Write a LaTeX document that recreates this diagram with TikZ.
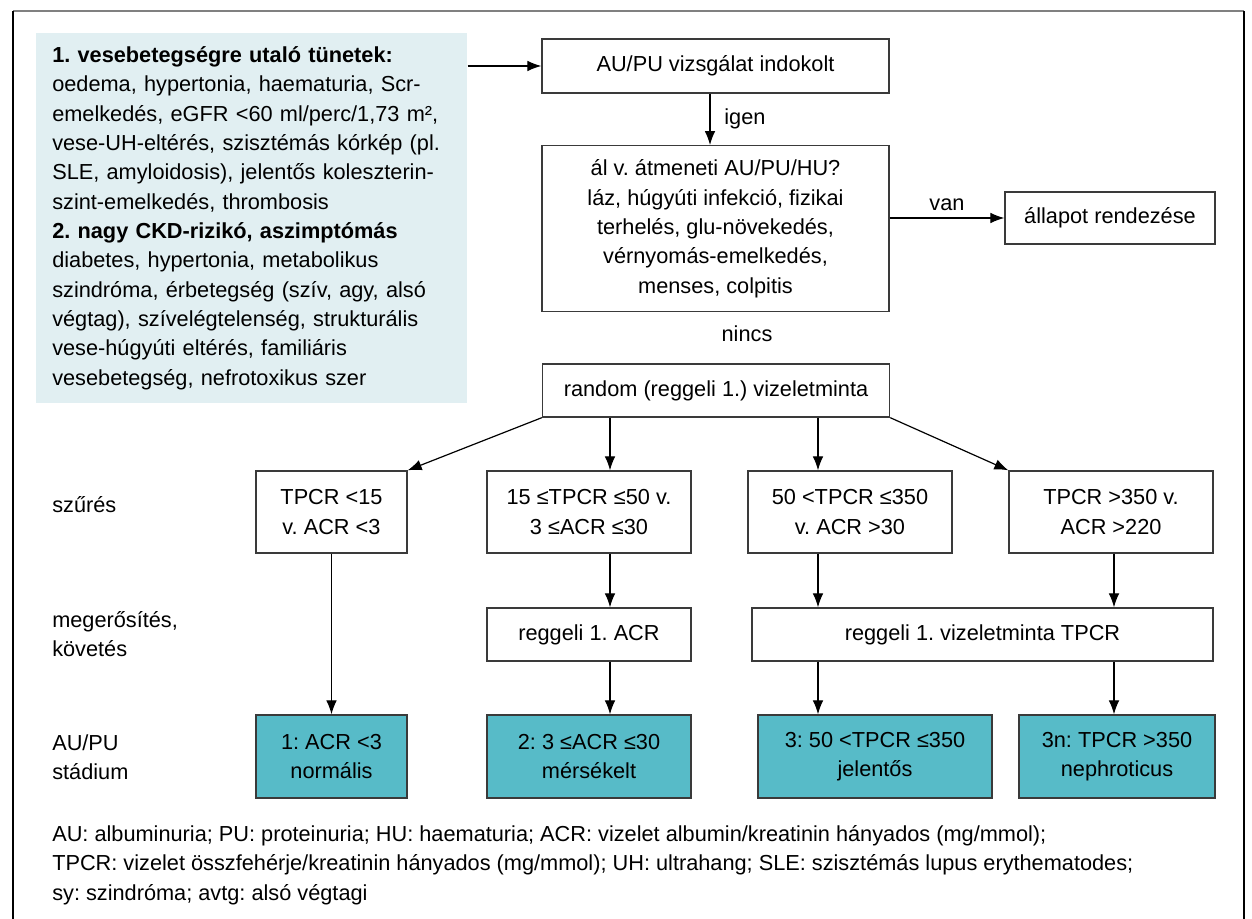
\documentclass[tikz,border=0pt]{standalone}
\usepackage{fontspec}
\setmainfont{Liberation Sans}
\usetikzlibrary{arrows.meta,positioning}
\definecolor{panelblue}{HTML}{E1EFF2}
\definecolor{stageteal}{HTML}{57BBC8}
\definecolor{boxline}{HTML}{3A3A3A}
\frenchspacing

\begin{document}
\begin{tikzpicture}[x=0.75pt,y=-0.75pt,
  every node/.style={font=\fontsize{16.3}{22}\selectfont},
  box/.style={draw=boxline,line width=1pt,fill=white,align=center,inner sep=0pt},
  stage/.style={box,fill=stageteal},
  lbl/.style={anchor=west,align=left,inner sep=0pt},
  arr/.style={-{Latex[length=10.5pt,width=8pt]},line width=0.9pt}]
  \useasboundingbox (0,0) rectangle (1252,919);
  \draw[gray,line width=2pt] (13,11) -- (1244,11);
  \draw[line width=1.2pt] (13,11) -- (13,919) (1244,11) -- (1244,919);

  \node[fill=panelblue,anchor=north west,minimum width=323.25pt,minimum height=277.5pt,
        text width=299.25pt,align=left,inner xsep=12pt,inner ysep=0pt] (tunet) at (36,33)
    {\textbf{1. vesebetegségre utaló tünetek:}\\
     oedema, hypertonia, haematuria, Scr-\\
     emelkedés, eGFR <60 ml/perc/1,73 m²,\\
     vese-UH-eltérés, szisztémás kórkép (pl.\\
     SLE, amyloidosis), jelentős koleszterin-\\
     szint-emelkedés, thrombosis\\
     \textbf{2. nagy CKD-rizikó, aszimptómás}\\
     diabetes, hypertonia, metabolikus\\
     szindróma, érbetegség (szív, agy, alsó\\
     végtag), szívelégtelenség, strukturális\\
     vese-húgyúti eltérés, familiáris\\
     vesebetegség, nefrotoxikus szer};

  \node[box,minimum width=260.25pt,minimum height=40.5pt] (au) at (715.5,66) {AU/PU vizsgálat indokolt};
  \node[box,minimum width=260.25pt,minimum height=124.5pt] (chk) at (715.5,228.7)
    {ál v. átmeneti AU/PU/HU?\\láz, húgyúti infekció, fizikai\\terhelés, glu-növekedés,\\vérnyomás-emelkedés,\\menses, colpitis};
  \node[box,minimum width=157.5pt,minimum height=39pt] (rend) at (1110,218) {állapot rendezése};
  \node[inner sep=0pt] (nincs) at (747,334) {nincs};
  \node[box,minimum width=260.25pt,minimum height=39.75pt] (rnd) at (716,390.5) {random (reggeli 1.) vizeletminta};

  \node[box,minimum width=113.25pt,minimum height=61.5pt] (a) at (331.5,512) {TPCR <15\\v. ACR <3};
  \node[box,minimum width=153pt,minimum height=61.5pt] (b) at (589,512) {15 ≤TPCR ≤50 v.\\3 ≤ACR ≤30};
  \node[box,minimum width=153pt,minimum height=61.5pt] (c) at (850,512) {50 <TPCR ≤350\\v. ACR >30};
  \node[box,minimum width=153pt,minimum height=61.5pt] (d) at (1111,512) {TPCR >350 v.\\ACR >220};

  \node[box,minimum width=153pt,minimum height=39.75pt] (b2) at (589,634.5) {reggeli 1. ACR};
  \node[box,minimum width=345.75pt,minimum height=39.75pt] (c2) at (982.5,634.5) {reggeli 1. vizeletminta TPCR};

  \node[stage,minimum width=113.25pt,minimum height=62.25pt] (s1) at (331.5,756.5) {1: ACR <3\\normális};
  \node[stage,minimum width=153pt,minimum height=62.25pt] (s2) at (589,756.5) {2: 3 ≤ACR ≤30\\mérsékelt};
  \node[stage,minimum width=175.5pt,minimum height=62.25pt] (s3) at (875,756.5) {3: 50 <TPCR ≤350\\jelentős};
  \node[stage,minimum width=147pt,minimum height=62.25pt] (s4) at (1117,756.5) {3n: TPCR >350\\nephroticus};

  \node[lbl] (szures) at (52,505) {szűrés};
  \node[lbl] (megerosites) at (52,634) {megerősítés,\\követés};
  \node[lbl] (stadium) at (52,757) {AU/PU\\stádium};
  \node[lbl] (jelmagy) at (52,865)
    {AU: albuminuria; PU: proteinuria; HU: haematuria; ACR: vizelet albumin/kreatinin hányados (mg/mmol);\\
     TPCR: vizelet összfehérje/kreatinin hányados (mg/mmol); UH: ultrahang; SLE: szisztémás lupus erythematodes;\\
     sy: szindróma; avtg: alsó végtagi};

  \coordinate (colau) at (710,0);
  \coordinate (colb) at (610,0);
  \coordinate (colc) at (818,0);
  \coordinate (cold) at (1114,0);

  \path[arr]
    (au.west -| tunet.east) edge (au.west)
    (au.south -| colau) edge node[right=7pt] {igen} (chk.north -| colau)
    (rend.west -| chk.east) edge node[above=2pt] {van} (rend.west)
    (rnd.south west) edge (a.north east)
    (rnd.south -| colb) edge (b.north -| colb)
    (rnd.south -| colc) edge (c.north -| colc)
    (rnd.south east) edge (d.north west)
    (a) edge (s1)
    (b.south -| colb) edge (b2.north -| colb)
    (b2.south -| colb) edge (s2.north -| colb)
    (c.south -| colc) edge (c2.north -| colc)
    (d.south -| cold) edge (c2.north -| cold)
    (c2.south -| colc) edge (s3.north -| colc)
    (c2.south -| cold) edge (s4.north -| cold);
\end{tikzpicture}
\end{document}
